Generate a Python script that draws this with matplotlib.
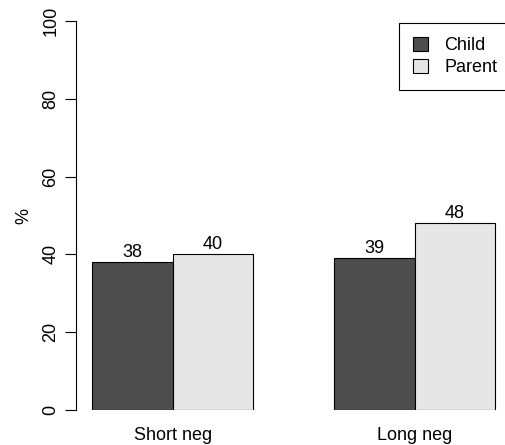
import matplotlib
matplotlib.use("Agg")
import matplotlib.pyplot as plt
import numpy as np

plt.rcParams['font.family'] = ['Liberation Sans', 'DejaVu Sans']

# Datos
grupos = ["Short neg", "Long neg"]
series = ["Child", "Parent"]
child = [38, 39]
parent = [40, 48]
colores = ["#4D4D4D", "#E6E6E6"]

valores = [child, parent]

fig = plt.figure(figsize=(5.06, 4.45), dpi=100)
ax = fig.add_axes([76 / 506, 35 / 445, 435.5 / 506, 389 / 445])

# posiciones tipo barplot(beside=TRUE) de R: space=c(0,1)
n_series = len(series)
centros = []
for i, g in enumerate(grupos):
    base = 1 + i * (n_series + 1)
    for j in range(n_series):
        x = base + j + 0.5
        v = valores[j][i]
        ax.bar(x, v, width=1, color=colores[j], edgecolor="black", linewidth=0.8,
               label=series[j] if i == 0 else None)
        ax.text(x, v + 1.3, str(v), ha="center", va="baseline", fontsize=13)
    centros.append(base + n_series / 2)

ax.set_xlim(0.8, 1 + len(grupos) * (n_series + 1) - 1 + 0.2)
ax.set_ylim(0, 100)
ax.set_xticks(centros)
ax.set_xticklabels(grupos, fontsize=13)
ax.tick_params(axis="x", length=0, pad=12)
ax.set_yticks(np.arange(0, 101, 20))
ax.tick_params(axis="y", length=8, width=0.8, pad=4, labelsize=13)
for lab in ax.get_yticklabels():
    lab.set_rotation(90)
    lab.set_va("center")
ax.set_ylabel("%", fontsize=13, labelpad=7)

for s in ["top", "right", "bottom"]:
    ax.spines[s].set_visible(False)
ax.spines["left"].set_linewidth(0.8)

leg = ax.legend(loc="upper right", bbox_to_anchor=(1.0, 0.996), fontsize=13,
                fancybox=False, edgecolor="black", framealpha=1,
                borderaxespad=0, handlelength=0.8, handleheight=0.8,
                handletextpad=0.9, labelspacing=0.25, borderpad=0.8)
leg.get_frame().set_linewidth(0.8)

fig.savefig("out.png", dpi=100)
